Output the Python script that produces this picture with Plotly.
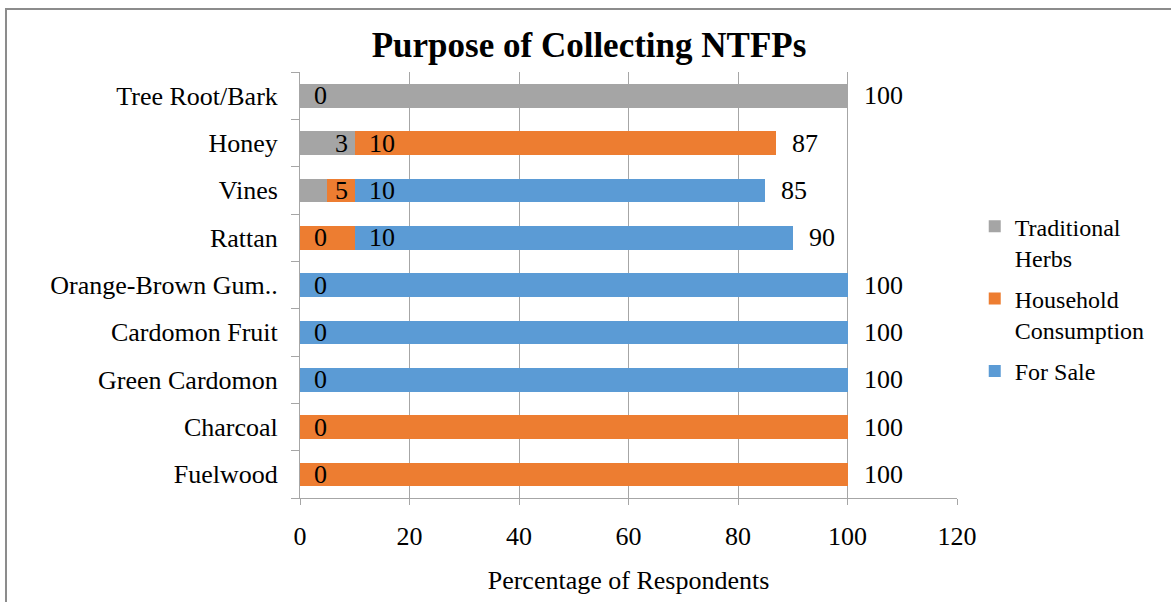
import plotly.graph_objects as go

# categories bottom -> top
products = ["Fuelwood", "Charcoal", "Green Cardomon", "Cardomon Fruit",
            "Orange-Brown Gum..", "Rattan", "Vines", "Honey", "Tree Root/Bark"]

herbs = [0, 0, 0, 0, 0, 0, 5, 10, 100]
household = [100, 100, 0, 0, 0, 10, 5, 77, 0]
for_sale = [0, 0, 100, 100, 100, 80, 75, 0, 0]

# the in-bar labels as printed in the source chart
herbs_labels = ["", "", "", "", "", "", "", "3", "0"]
household_labels = ["0", "0", "", "", "", "0", "5", "10", ""]
sale_labels = ["", "", "0", "0", "0", "10", "10", "", ""]
# where each label sits in its segment
herbs_anchor = ["", "", "", "", "", "", "", "end", "start"]
household_anchor = ["start", "start", "", "", "", "start", "end", "start", ""]
sale_anchor = ["", "", "start", "start", "start", "start", "start", "", ""]

totals = [100, 100, 100, 100, 100, 90, 85, 87, 100]

series = [
    ("Traditional<br>Herbs", herbs, herbs_labels, herbs_anchor, "#A5A5A5"),
    ("Household<br>Consumption", household, household_labels, household_anchor, "#ED7D31"),
    ("For Sale", for_sale, sale_labels, sale_anchor, "#5B9BD5"),
]

FONT = "Liberation Serif"
FS = 26

fig = go.Figure()
for k, (name, vals, _, _, color) in enumerate(series):
    fig.add_trace(go.Bar(
        y=products, x=vals, name=name, orientation="h",
        marker=dict(color=color, line=dict(width=0)),
        width=0.5, hoverinfo="x+name", legendgroup=f"g{k}",
    ))

annotations = []
base = [0] * len(products)
for name, vals, labels, anchors, color in series:
    for i, cat in enumerate(products):
        if labels[i]:
            if anchors[i] == "start":
                annotations.append(dict(x=base[i], y=cat, text=labels[i], showarrow=False,
                                        xanchor="left", xshift=12,
                                        font=dict(family=FONT, size=FS, color="black")))
            else:
                annotations.append(dict(x=base[i] + vals[i], y=cat, text=labels[i], showarrow=False,
                                        xanchor="right", xshift=-5,
                                        font=dict(family=FONT, size=FS, color="black")))
        base[i] += vals[i]

for i, cat in enumerate(products):
    annotations.append(dict(x=totals[i], y=cat, text=str(totals[i]), showarrow=False,
                            xanchor="left", xshift=14,
                            font=dict(family=FONT, size=FS, color="black")))

fig.update_layout(
    barmode="stack",
    width=1171, height=602,
    margin=dict(l=300, r=214, t=72, b=104),
    paper_bgcolor="white", plot_bgcolor="white",
    font=dict(family=FONT, size=FS, color="black"),
    title=dict(text="<b>Purpose of Collecting NTFPs</b>", x=0.503, xref="container",
               xanchor="center", y=0.925, yanchor="middle",
               font=dict(family=FONT, size=35, color="black")),
    showlegend=True,
    legend=dict(x=1.027, y=0.69, xanchor="left", yanchor="top",
                traceorder="grouped", font=dict(family=FONT, size=24),
                valign="top", itemwidth=30, tracegroupgap=7),
    annotations=annotations,
    shapes=[dict(type="rect", xref="paper", yref="paper",
                 x0=-0.4475, x1=1.34, y0=-0.27, y1=1.148,
                 line=dict(color="#8C8C8C", width=2), layer="below")],
)

fig.update_xaxes(range=[0, 120], dtick=20, showgrid=True, gridcolor="#A6A6A6", gridwidth=1,
                 showline=True, linecolor="#A6A6A6", linewidth=1,
                 ticks="outside", ticklen=6, tickcolor="#A6A6A6",
                 zeroline=False, ticklabelstandoff=9,
                 title=dict(text="Percentage of Respondents", standoff=20,
                            font=dict(family=FONT, size=FS)),
                 tickfont=dict(family=FONT, size=FS))
fig.update_yaxes(showline=True, linecolor="#A6A6A6", linewidth=1,
                 ticks="outside", ticklen=8, tickcolor="#A6A6A6",
                 tickson="boundaries", showgrid=False,
                 ticklabelstandoff=16,
                 tickfont=dict(family=FONT, size=FS))

fig.write_html("out.html", post_script="document.body.style.margin='0';",
               config={"displayModeBar": False})
